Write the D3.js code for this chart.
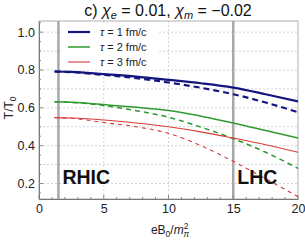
<!DOCTYPE html>
<html>
<head>
<meta charset="utf-8">
<script src="https://cdn.jsdelivr.net/npm/d3@7"></script>
<style>
  body { margin: 0; background: #fff; }
  svg { display: block; font-family: "Liberation Sans", Arial, sans-serif; }
</style>
</head>
<body>
<div id="chart"></div>
<script>
// values
const bField = [1.2, 2.5, 5, 7.5, 10, 12.5, 15, 17.5, 20];
const tau1Solid = [0.792, 0.790, 0.778, 0.765, 0.748, 0.730, 0.707, 0.672, 0.634];
const tau1Dashed = [0.792, 0.789, 0.774, 0.757, 0.734, 0.706, 0.672, 0.628, 0.577];
const tau2Solid = [0.632, 0.630, 0.617, 0.603, 0.586, 0.556, 0.520, 0.480, 0.440];
const tau2Dashed = [0.632, 0.629, 0.612, 0.585, 0.550, 0.498, 0.437, 0.365, 0.280];
const tau3Solid = [0.548, 0.546, 0.536, 0.520, 0.500, 0.473, 0.440, 0.405, 0.365];
const tau3Dashed = [0.548, 0.545, 0.522, 0.500, 0.465, 0.400, 0.317, 0.225, 0.130];

const legendLabels = ["1", "2", "3"];
const xTicks = [0, 5, 10, 15, 20];
const yTicks = [0.2, 0.4, 0.6, 0.8, 1.0];
const yGrid = [0.2, 0.3, 0.4, 0.5, 0.6, 0.7, 0.8, 0.9, 1.0];
const markers = [{name: "RHIC", b: 1.5}, {name: "LHC", b: 15}];

const width = 305, height = 240;
const margin = {top: 21, right: 7, bottom: 41, left: 39};

const svg = d3.select("#chart").append("svg")
    .attr("width", width)
    .attr("height", height);

const x = d3.scaleLinear().domain([0, 20]).range([margin.left, width - margin.right]);
const y = d3.scaleLinear().domain([0.118, 1.059]).range([height - margin.bottom, margin.top]);

svg.append("defs").append("clipPath").attr("id", "plotClip")
  .append("rect")
    .attr("x", x(0)).attr("y", y(1.059))
    .attr("width", x(20) - x(0)).attr("height", y(0.118) - y(1.059));

// grid
svg.append("g").selectAll("line").data(yGrid).enter().append("line")
    .attr("x1", x(0)).attr("x2", x(20))
    .attr("y1", d => y(d)).attr("y2", d => y(d))
    .style("stroke", "#d4d4d4").style("stroke-dasharray", "2,2");
svg.append("g").selectAll("line").data([5, 10]).enter().append("line")
    .attr("x1", d => x(d)).attr("x2", d => x(d))
    .attr("y1", y(1.059)).attr("y2", y(0.118))
    .style("stroke", "#d4d4d4").style("stroke-dasharray", "2,2");

// frame
svg.append("rect")
    .attr("x", x(0)).attr("y", y(1.059))
    .attr("width", x(20) - x(0)).attr("height", y(0.118) - y(1.059))
    .style("fill", "none").style("stroke", "#b0b0b0");

// experiment markers
svg.append("g").selectAll("line").data(markers).enter().append("line")
    .attr("x1", d => x(d.b)).attr("x2", d => x(d.b))
    .attr("y1", y(1.059)).attr("y2", y(0.118))
    .style("stroke", "#a8a8a8").style("stroke-width", 2.5);

// axes
const xAxis = d3.axisBottom(x).tickValues(xTicks).tickFormat(d3.format("d")).tickSize(0).tickPadding(5);
const gx = svg.append("g").attr("transform", `translate(0,${y(0.118)})`).call(xAxis);
const yAxis = d3.axisLeft(y).tickValues(yTicks).tickFormat(d3.format(".1f")).tickSize(0).tickPadding(4);
const gy = svg.append("g").attr("transform", `translate(${x(0)},0)`).call(yAxis);
[gx, gy].forEach(g => {
    g.select(".domain").style("stroke", "#777");
    g.selectAll("text").style("font-size", "12.5px").style("fill", "#222")
        .style("font-family", "'Liberation Sans', Arial, sans-serif");
});

// small inward ticks
svg.append("g").selectAll("line").data(d3.range(0, 21, 1)).enter().append("line")
    .attr("x1", d => x(d)).attr("x2", d => x(d))
    .attr("y1", y(0.118)).attr("y2", d => y(0.118) - (d % 5 === 0 ? 4 : 2))
    .style("stroke", "#888");
svg.append("g").selectAll("line").data(d3.range(0.15, 1.06, 0.05)).enter().append("line")
    .attr("x1", x(0)).attr("x2", d => x(0) + (Math.abs(d * 10 - Math.round(d * 10)) < 0.01 && Math.round(d * 10) % 2 === 0 ? 4 : 2))
    .attr("y1", d => y(d)).attr("y2", d => y(d))
    .style("stroke", "#888");

// curves
const series = [
    {vals: tau1Solid, color: "#14147f", w: 2.2, dash: null},
    {vals: tau1Dashed, color: "#14147f", w: 2.2, dash: "6,4"},
    {vals: tau2Solid, color: "#2f9a2f", w: 1.5, dash: null},
    {vals: tau2Dashed, color: "#2f9a2f", w: 1.5, dash: "5,4"},
    {vals: tau3Solid, color: "#d83a3a", w: 1.1, dash: null},
    {vals: tau3Dashed, color: "#d83a3a", w: 1.1, dash: "4,4"}
];

const line = d3.line()
    .x((d, i) => x(bField[i]))
    .y(d => y(d))
    .curve(d3.curveMonotoneX);

const curves = svg.append("g").attr("clip-path", "url(#plotClip)");
curves.selectAll("path").data(series).enter().append("path")
    .attr("d", d => line(d.vals))
    .style("fill", "none")
    .style("stroke", d => d.color)
    .style("stroke-width", d => d.w)
    .style("stroke-dasharray", d => d.dash);

// marker labels
svg.append("g").selectAll("text").data(markers).enter().append("text")
    .attr("x", d => x(d.b) + 4)
    .attr("y", 184)
    .text(d => d.name)
    .style("font-size", "19.5px")
    .style("font-weight", "bold")
    .style("fill", "#111");

// legend
const legend = svg.append("g");
legend.append("rect")
    .attr("x", 62).attr("y", 25).attr("width", 96).attr("height", 45)
    .style("fill", "#fff");
const legendRows = legend.selectAll("g").data(legendLabels).enter().append("g")
    .attr("transform", (d, i) => `translate(68,${32 + i * 15})`);
legendRows.append("line")
    .attr("x1", 0).attr("x2", 22).attr("y1", 0).attr("y2", 0)
    .style("stroke", (d, i) => series[i * 2].color)
    .style("stroke-width", (d, i) => series[i * 2].w);
const lt = legendRows.append("text")
    .attr("x", 32).attr("y", 4)
    .style("font-size", "11px").style("fill", "#222");
lt.append("tspan").style("font-style", "italic").text("τ");
lt.append("tspan").text(d => ` = ${d} fm/c`);

// title
const title = svg.append("text")
    .attr("x", 168).attr("y", 16)
    .attr("text-anchor", "middle")
    .style("font-size", "16px").style("fill", "#111");
title.append("tspan").text("c) ");
title.append("tspan").style("font-style", "italic").text("χ");
title.append("tspan").attr("dy", 3).style("font-size", "11px").style("font-style", "italic").text("e");
title.append("tspan").attr("dy", -3).text(" = 0.01, ");
title.append("tspan").style("font-style", "italic").text("χ");
title.append("tspan").attr("dy", 3).style("font-size", "11px").style("font-style", "italic").text("m");
title.append("tspan").attr("dy", -3).text(" = −0.02");

// axis titles
const xt = svg.append("text")
    .attr("x", 170).attr("y", 234)
    .attr("text-anchor", "middle")
    .style("font-size", "12px").style("fill", "#222");
xt.append("tspan").text("eB");
xt.append("tspan").attr("dy", 3).style("font-size", "8.5px").text("0");
xt.append("tspan").attr("dy", -3).text("/");
xt.append("tspan").style("font-style", "italic").text("m");
xt.append("tspan").attr("dy", -5).style("font-size", "8.5px").text("2");
xt.append("tspan").attr("dy", 8).attr("dx", -5).style("font-size", "8.5px").style("font-style", "italic").text("π");

const yt = svg.append("text")
    .attr("transform", `translate(13,${y(0.6)}) rotate(-90)`)
    .attr("text-anchor", "middle")
    .style("font-size", "12px").style("fill", "#222");
yt.append("tspan").text("T/T");
yt.append("tspan").attr("dy", 3).style("font-size", "8.5px").text("0");
</script>
</body>
</html>
